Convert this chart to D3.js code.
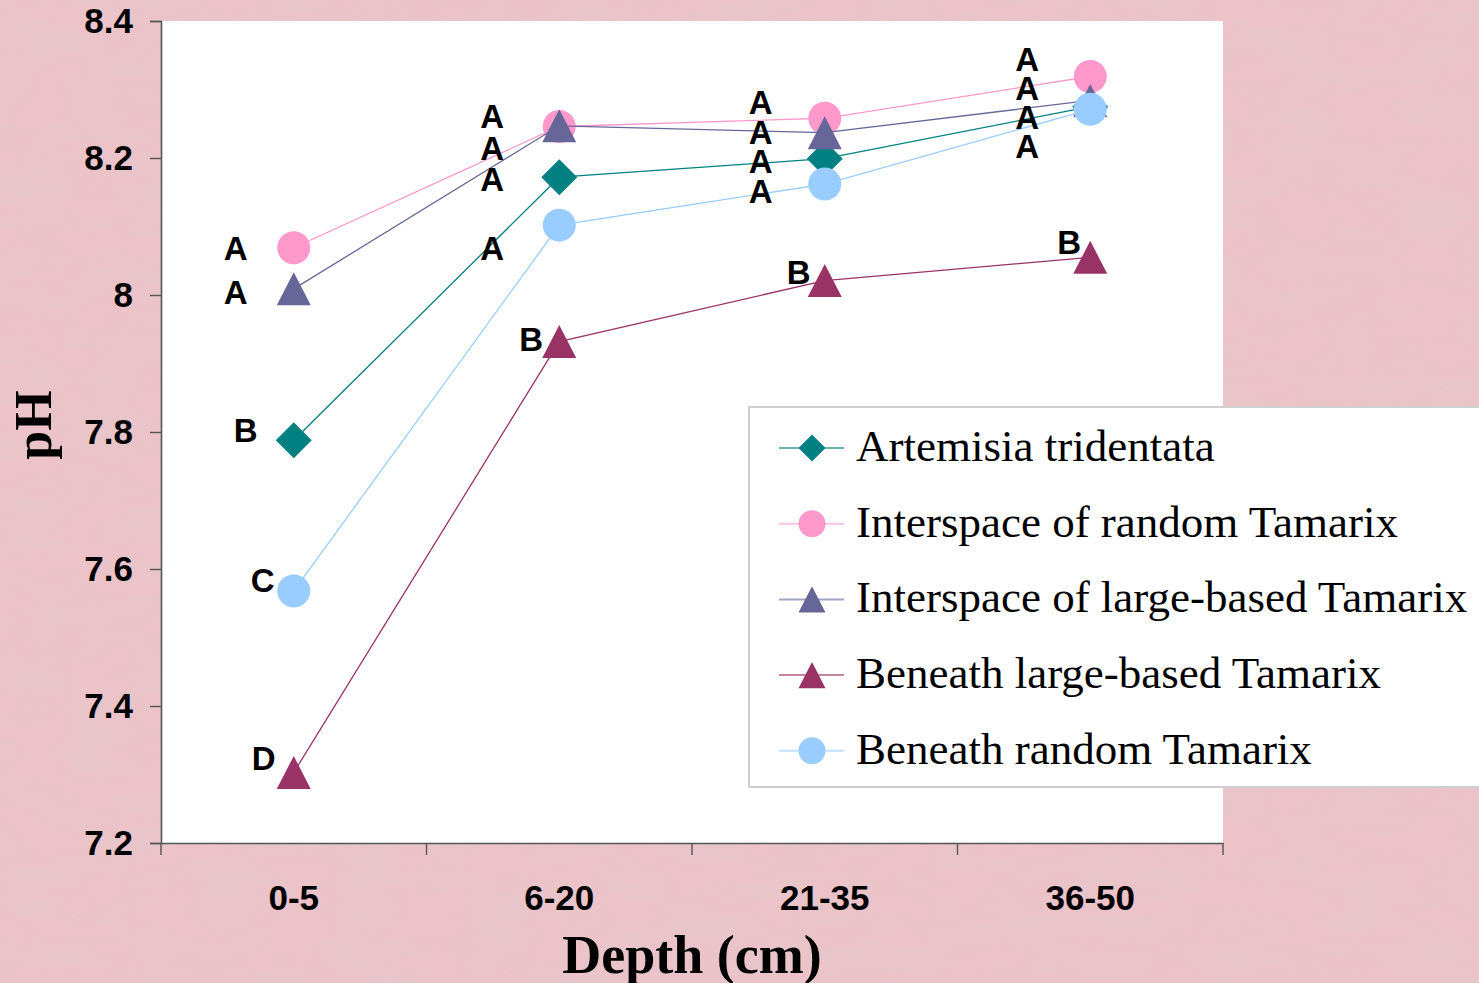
<!DOCTYPE html>
<html>
<head>
<meta charset="utf-8">
<script src="https://cdn.jsdelivr.net/npm/d3@7"></script>
<style>
  html, body { margin: 0; padding: 0; background: #e8bec3; }
  svg { display: block; }
</style>
</head>
<body>
<svg id="chart" width="1479" height="983"></svg>
<script>
// ---------- data ----------
const categories = ["0-5", "6-20", "21-35", "36-50"];
const seriesNames = [
  "Artemisia tridentata",
  "Interspace of random Tamarix",
  "Interspace of large-based Tamarix",
  "Beneath large-based Tamarix",
  "Beneath random Tamarix"
];
const artemisia      = [7.788, 8.172, 8.199, 8.275];
const interRandom    = [8.069, 8.246, 8.258, 8.319];
const interLarge     = [8.009, 8.247, 8.237, 8.284];
const beneathLarge   = [7.303, 7.932, 8.021, 8.055];
const beneathRandom  = [7.568, 8.102, 8.162, 8.271];
const yTicks = [7.2, 7.4, 7.6, 7.8, 8.0, 8.2, 8.4];

// significance letters: category, letter, vertical position (pH units)
const labelCats    = ["0-5","0-5","0-5","0-5","0-5",
                      "6-20","6-20","6-20","6-20","6-20",
                      "21-35","21-35","21-35","21-35","21-35",
                      "36-50","36-50","36-50","36-50","36-50"];
const labelLetters = ["A","A","B","C","D",
                      "A","A","A","A","B",
                      "A","A","A","A","B",
                      "A","A","A","A","B"];
const labelValues  = [8.069, 8.004, 7.803, 7.584, 7.324,
                      8.261, 8.215, 8.169, 8.068, 7.936,
                      8.282, 8.238, 8.196, 8.152, 8.033,
                      8.345, 8.302, 8.259, 8.217, 8.077];

// ---------- layout / style ----------
const labelDx = [-58,-58,-48,-31,-30, -67,-67,-67,-67,-28, -64,-64,-64,-64,-26, -63,-63,-63,-63,-21];
const seriesValues = [artemisia, interRandom, interLarge, beneathLarge, beneathRandom];
const colors  = ["#008080", "#FF99CC", "#666699", "#993366", "#99CCFF"];
const shapes  = ["diamond", "circle", "triangle", "triangle", "circle"];

const svg = d3.select("#chart");
const W = 1479, H = 983;
const plot = { left: 161, right: 1223, top: 21, bottom: 843 };

// background texture
const defs = svg.append("defs");
const f = defs.append("filter").attr("id", "tex").attr("x", 0).attr("y", 0).attr("width", 1).attr("height", 1);
f.append("feTurbulence").attr("type", "fractalNoise").attr("baseFrequency", "0.015 0.035").attr("numOctaves", 4).attr("seed", 3);
f.append("feColorMatrix").attr("type", "matrix")
  .attr("values", "0 0 0 0 0.78  0 0 0 0 0.58  0 0 0 0 0.62  1.6 0 0 0 -0.6");
svg.append("rect").attr("width", W).attr("height", H).attr("fill", "#ebc3c8");
svg.append("rect").attr("width", W).attr("height", H).attr("filter", "url(#tex)").attr("opacity", 0.7);

// scales
const x = d3.scaleBand().domain(categories).range([plot.left, plot.right]);
const y = d3.scaleLinear().domain([7.2, 8.4]).range([plot.bottom, plot.top]);
const cx = c => x(c) + x.bandwidth() / 2;

// plot area
svg.append("rect")
  .attr("x", plot.left).attr("y", plot.top)
  .attr("width", plot.right - plot.left).attr("height", plot.bottom - plot.top)
  .attr("fill", "#ffffff");

// y axis
const yAxis = svg.append("g")
  .attr("transform", `translate(${plot.left},0)`)
  .call(d3.axisLeft(y).tickValues(yTicks).tickSize(11).tickPadding(17)
        .tickFormat(d => String(+d.toFixed(1))));
yAxis.select(".domain").attr("stroke", "#555").attr("stroke-width", 1.6);
yAxis.selectAll(".tick line").attr("stroke", "#555").attr("stroke-width", 1.4);
yAxis.selectAll(".tick text")
  .attr("font-family", "Liberation Sans, Arial, sans-serif")
  .attr("font-weight", "bold").attr("font-size", 35).attr("fill", "#000");

// x axis
const xAxis = svg.append("g")
  .attr("transform", `translate(0,${plot.bottom})`)
  .call(d3.axisBottom(x).tickSize(0).tickPadding(42));
xAxis.select(".domain").attr("stroke", "#555").attr("stroke-width", 1.6);
xAxis.selectAll(".tick text")
  .attr("font-family", "Liberation Sans, Arial, sans-serif")
  .attr("font-weight", "bold").attr("font-size", 35).attr("fill", "#000");
const boundaries = categories.map(c => x(c)).concat([x(categories[categories.length - 1]) + x.bandwidth()]);
xAxis.selectAll("line.bound").data(boundaries).join("line").attr("class", "bound")
  .attr("x1", d => d).attr("x2", d => d).attr("y1", 0).attr("y2", 12)
  .attr("stroke", "#555").attr("stroke-width", 1.4);

// axis titles
svg.append("text")
  .attr("transform", `translate(51,425) rotate(-90)`)
  .attr("text-anchor", "middle")
  .attr("font-family", "Liberation Serif, Times New Roman, serif")
  .attr("font-weight", "bold").attr("font-size", 52).attr("fill", "#000")
  .text("pH");
svg.append("text")
  .attr("x", 692).attr("y", 973)
  .attr("text-anchor", "middle")
  .attr("font-family", "Liberation Serif, Times New Roman, serif")
  .attr("font-weight", "bold").attr("font-size", 54).attr("fill", "#000")
  .text("Depth (cm)");

// marker drawer
function marker(sel, shape, color, size) {
  if (shape === "circle") {
    sel.append("circle").attr("r", size / 2).attr("fill", color);
  } else if (shape === "diamond") {
    const h = size / 2;
    sel.append("path").attr("d", `M0,${-h}L${h},0L0,${h}L${-h},0Z`).attr("fill", color);
  } else {
    const h = size * 0.97, w = size;
    sel.append("path").attr("d", `M0,${-h/2}L${w/2},${h/2}L${-w/2},${h/2}Z`).attr("fill", color);
  }
}

// series
const line = d3.line().x((d, i) => cx(categories[i])).y(d => y(d));
seriesValues.forEach((vals, s) => {
  const g = svg.append("g");
  g.append("path").datum(vals).attr("d", line)
    .attr("fill", "none").attr("stroke", colors[s]).attr("stroke-width", 1.3);
  vals.forEach((v, i) => {
    const m = g.append("g").attr("transform", `translate(${cx(categories[i])},${y(v)})`);
    marker(m, shapes[s], colors[s], shapes[s] === "circle" ? 33 : (shapes[s] === "diamond" ? 36 : 34));
  });
});

// significance letters
svg.append("g").selectAll("text").data(labelLetters).join("text")
  .attr("x", (d, i) => cx(labelCats[i]) + labelDx[i])
  .attr("y", (d, i) => y(labelValues[i]))
  .attr("dy", "0.36em")
  .attr("text-anchor", "middle")
  .attr("font-family", "Liberation Sans, Arial, sans-serif")
  .attr("font-weight", "bold").attr("font-size", 33).attr("fill", "#000")
  .text(d => d);

// legend
const lg = svg.append("g").attr("transform", "translate(749,407)");
lg.append("rect").attr("x", 0).attr("y", 0).attr("width", 780).attr("height", 380)
  .attr("fill", "#ffffff").attr("stroke", "#cfcfcf").attr("stroke-width", 2);
seriesNames.forEach((name, s) => {
  const ry = 41 + s * 75.7;
  lg.append("line").attr("x1", 30).attr("x2", 95).attr("y1", ry).attr("y2", ry)
    .attr("stroke", colors[s]).attr("stroke-width", 2).attr("stroke-opacity", 0.6);
  const m = lg.append("g").attr("transform", `translate(63,${ry})`);
  marker(m, shapes[s], colors[s], 27);
  lg.append("text").attr("x", 107).attr("y", ry + 13)
    .attr("font-family", "Liberation Serif, Times New Roman, serif")
    .attr("font-size", 45).attr("fill", "#000")
    .text(name);
});
</script>
</body>
</html>
